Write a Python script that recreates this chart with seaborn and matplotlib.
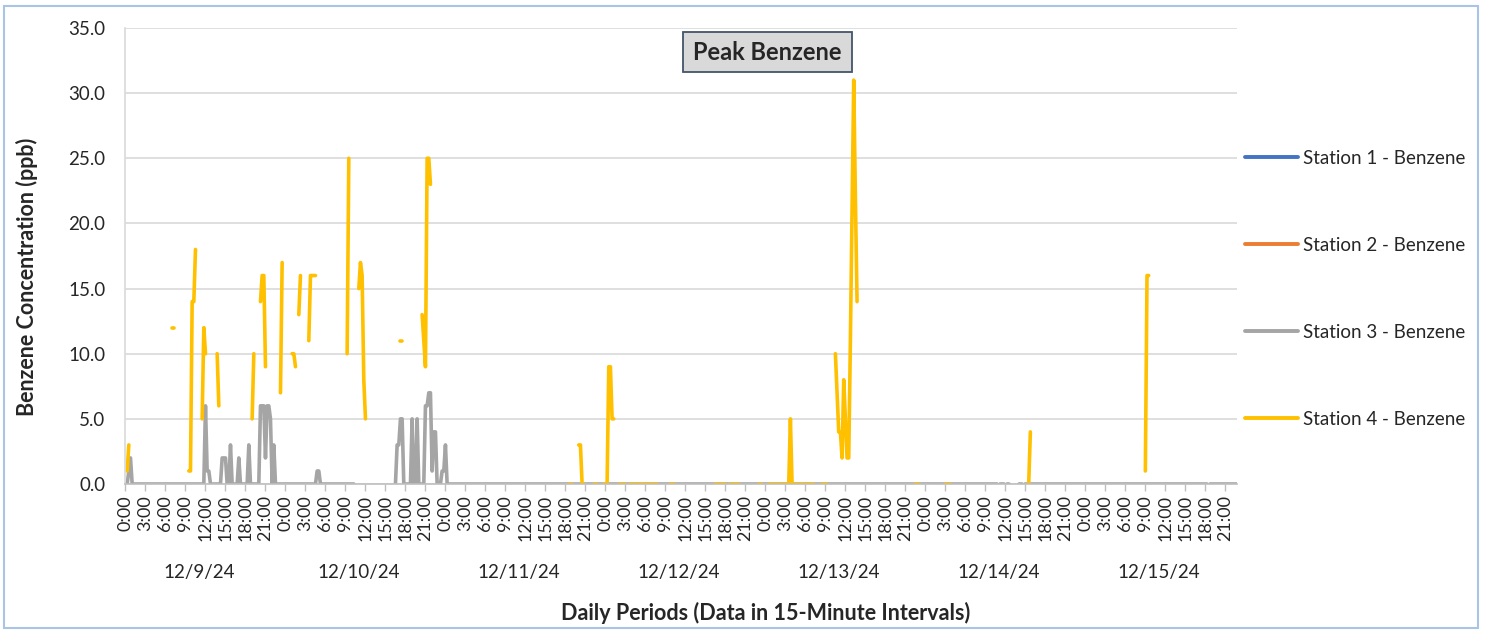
import numpy as np
import pandas as pd
import seaborn as sns
import matplotlib.pyplot as plt
from matplotlib.lines import Line2D
from matplotlib.patches import Rectangle

# 7 days of 15-minute readings
n_points = 672
day_labels = ['12/9/24', '12/10/24', '12/11/24', '12/12/24', '12/13/24', '12/14/24', '12/15/24']
hour_labels = ['0:00', '3:00', '6:00', '9:00', '12:00', '15:00', '18:00', '21:00']
stations = ['Station 1 - Benzene', 'Station 2 - Benzene', 'Station 3 - Benzene', 'Station 4 - Benzene']
colors = ['#4472C4', '#ED7D31', '#A5A5A5', '#FFC000']

# Station 3: intervals with data (start, end) -> 0 ppb unless listed in the readings
s3_spans = [(0, 137), (162, 523), (525, 527), (529, 530), (536, 538), (540, 649), (651, 667)]
s3_readings = {2: 1, 3: 2, 48: 6, 49: 1, 50: 1, 58: 2, 59: 2, 60: 2, 63: 3, 68: 2, 74: 3,
               81: 6, 82: 6, 83: 6, 84: 2, 85: 6, 86: 6, 87: 5, 89: 3, 115: 1, 116: 1,
               163: 3, 164: 3, 165: 5, 166: 5, 172: 5, 175: 5, 180: 6, 181: 6, 182: 7,
               183: 7, 184: 1, 185: 4, 186: 4, 190: 1, 191: 1, 192: 3}

# Station 4: spans of 0 ppb and the other readings
s4_spans = [(266, 268), (274, 275), (281, 283), (287, 289), (296, 300), (303, 319),
            (327, 329), (354, 360), (363, 368), (380, 382), (386, 398), (400, 413),
            (418, 421), (474, 476), (492, 495), (542, 542)]
s4_readings = {1: 1, 2: 3, 28: 12, 29: 12, 38: 1, 39: 1, 40: 14, 41: 14, 42: 18,
               46: 5, 47: 12, 48: 10, 55: 10, 56: 6, 76: 5, 77: 10, 81: 14, 82: 16,
               83: 16, 84: 9, 93: 7, 94: 17, 100: 10, 101: 10, 102: 9, 104: 13, 105: 16,
               110: 11, 111: 16, 112: 16, 113: 16, 114: 16, 133: 10, 134: 25,
               140: 15, 141: 17, 142: 16, 143: 8, 144: 5, 165: 11, 166: 11,
               178: 13, 179: 11, 180: 9, 181: 25, 182: 25, 183: 23,
               272: 3, 273: 3, 290: 9, 291: 9, 292: 5, 293: 5, 399: 5,
               426: 10, 427: 7, 428: 4, 429: 4, 430: 2, 431: 8, 432: 5, 433: 2, 434: 2,
               435: 11, 436: 21, 437: 31, 438: 22, 439: 14, 543: 4, 612: 1, 613: 16, 614: 16}


def build_series(spans, readings):
    vals = np.full(n_points, np.nan)
    for a, b in spans:
        vals[a:b + 1] = 0.0
    for i, v in readings.items():
        vals[i] = v
    return vals


series = {
    stations[0]: np.full(n_points, np.nan),
    stations[1]: np.full(n_points, np.nan),
    stations[2]: build_series(s3_spans, s3_readings),
    stations[3]: build_series(s4_spans, s4_readings),
}

frames = []
for name, vals in series.items():
    d = pd.DataFrame({'idx': np.arange(n_points), 'ppb': vals, 'station': name})
    d['seg'] = d['ppb'].isna().cumsum()  # break the line at missing readings
    frames.append(d.dropna())
df = pd.concat(frames, ignore_index=True)

sns.set_theme(style='white')
plt.rcParams['font.family'] = ['Lato', 'DejaVu Sans']

fig = plt.figure(figsize=(14.86, 6.34), dpi=100)
ax = fig.add_axes([125 / 1486, 1 - 484 / 634, 1112 / 1486, 456 / 634])

sns.lineplot(data=df, x='idx', y='ppb', hue='station', units='seg', estimator=None,
             hue_order=stations, palette=dict(zip(stations, colors)),
             linewidth=2.6, legend=False, ax=ax, solid_capstyle='round')

ax.set_xlim(-0.3, 667)
ax.set_ylim(0, 35)
ax.set_yticks(np.arange(0, 36, 5))
ax.set_yticklabels([f'{v:.1f}' for v in np.arange(0, 36, 5)], fontsize=13.5)
ax.grid(axis='y', color='#D9D9D9', linewidth=1.2)
ax.grid(axis='x', visible=False)
ax.tick_params(axis='y', length=0, pad=14)

ticks = np.arange(0, n_points, 12)
ax.set_xticks(ticks)
ax.set_xticklabels([hour_labels[(t // 12) % 8] for t in ticks], rotation=90, fontsize=13)
ax.tick_params(axis='x', length=5, color='#BFBFBF', width=1, pad=3, bottom=True)

for s in ['top', 'right']:
    ax.spines[s].set_visible(False)
ax.spines['left'].set_color('#D9D9D9')
ax.spines['bottom'].set_color('#BFBFBF')
ax.spines['left'].set_linewidth(1.2)
ax.spines['bottom'].set_linewidth(1.2)

for k, lab in enumerate(day_labels):
    ax.text(96 * k + 44, -0.193, lab, transform=ax.get_xaxis_transform(),
            ha='center', va='center', fontsize=13.5)

ax.set_xlabel('')
ax.set_ylabel('')
fig.text(27 / 1486, 1 - 277 / 634, 'Benzene Concentration (ppb)', rotation=90,
         ha='center', va='center', fontsize=15.5, fontweight='bold')
fig.text(766 / 1486, 1 - 613 / 634, 'Daily Periods (Data in 15-Minute Intervals)',
         ha='center', va='center', fontsize=15.5, fontweight='bold')

# title box
fig.patches.append(Rectangle((683 / 1486, 1 - 72 / 634), 169 / 1486, 40 / 634,
                             transform=fig.transFigure, facecolor='#D9D9D9',
                             edgecolor='#44546A', linewidth=1.3))
fig.text(767 / 1486, 1 - 52 / 634, 'Peak Benzene', ha='center', va='center',
         fontsize=17, fontweight='bold')

handles = [Line2D([0], [0], color=c, linewidth=2.8) for c in colors]
fig.legend(handles, stations, loc='upper left', bbox_to_anchor=(1245 / 1486, 1 - 150 / 634),
           frameon=False, fontsize=13.5, handlelength=2.8, handletextpad=0.3,
           labelspacing=3.73, borderaxespad=0, borderpad=0)

# outer chart border
fig.patches.append(Rectangle((4 / 1486, 6 / 634), 1474 / 1486, 622 / 634,
                             transform=fig.transFigure, fill=False,
                             edgecolor='#A9C4E6', linewidth=1.5))

fig.savefig('out.png', dpi=100)
